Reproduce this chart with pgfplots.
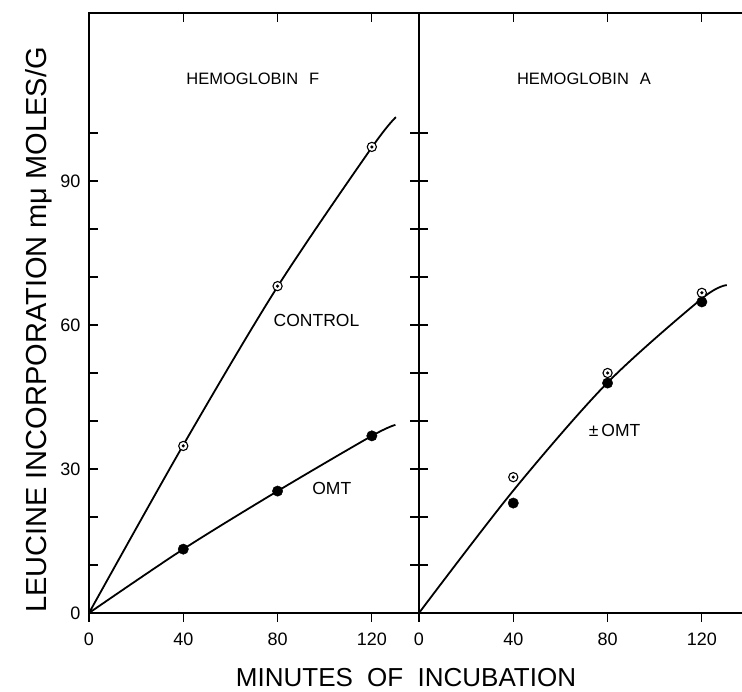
\documentclass[border=0pt]{standalone}
\usepackage{pgfplots}
\pgfplotsset{compat=1.18}
\usepackage{fontspec}
\setmainfont{Liberation Sans}

\pgfdeclareplotmark{odot}{%
  \pgfsetfillcolor{white}%
  \pgfpathcircle{\pgfpointorigin}{\pgfplotmarksize}%
  \pgfusepathqfillstroke
  \pgfsetfillcolor{black}%
  \pgfpathcircle{\pgfpointorigin}{0.38\pgfplotmarksize}%
  \pgfusepathqfill}

\pgfplotstableread{
x y
0 0
40 35
80 68
120 97
130.2 103.3
}\ctrlF
\pgfplotstableread{
x y
40 34.8
80 68.1
120 97.1
}\ctrlFpts
\pgfplotstableread{
x y
0 0
40 13.3
80 25.4
120 36.9
130 39.2
}\omtF
\pgfplotstableread{
x y
40 13.3
80 25.4
120 36.9
}\omtFpts
\pgfplotstableread{
x y
0 0
40 25.5
80 48
120 65.5
130.6 68.3
}\curveA
\pgfplotstableread{
x y
40 28.3
80 50
120 66.7
}\ctrlApts
\pgfplotstableread{
x y
40 22.9
80 47.9
120 64.8
}\omtApts

\begin{document}
\begin{tikzpicture}
\pgfplotsset{
  panel/.style={
    scale only axis, height=600pt, ymin=0, ymax=125, xmin=0,
    axis line style={line width=1.7pt},
    every tick/.style={black, line width=1.2pt},
    major tick length=9pt, minor tick length=9pt,
    xtick={0,40,80,120}, xticklabels={0,40,80,120},
    xtick pos=lower, xtick align=outside,
    ytick align=inside,
    tick label style={font=\fontsize{18}{20}\selectfont},
    xticklabel style={yshift=-7pt},
    yticklabel style={xshift=-5pt},
    clip=false,
  },
  curve/.style={black, line width=1.8pt, smooth, no markers},
  openpt/.style={only marks, mark=odot, mark size=4.6pt, mark options={draw=black, line width=1.1pt}},
  fullpt/.style={only marks, mark=*, mark size=5.2pt, mark options={fill=black, draw=black}},
}
\begin{axis}[panel, name=pF, width=330pt, xmax=140,
  ytick={0,10,...,100}, yticklabels={0,,,30,,,60,,,90,,},
  ytick pos=both, yticklabel pos=left]
  \addplot[curve] table[x=x,y=y] {\ctrlF};
  \addplot[curve] table[x=x,y=y] {\omtF};
  \addplot[openpt] table[x=x,y=y] {\ctrlFpts};
  \addplot[fullpt] table[x=x,y=y] {\omtFpts};
  \draw[line width=1.2pt] (axis cs:40,125) -- ++(0,-9pt);
  \draw[line width=1.2pt] (axis cs:80,125) -- ++(0,-9pt);
  \draw[line width=1.2pt] (axis cs:120,125) -- ++(0,-9pt);
  \node[font=\fontsize{16.5}{18}\selectfont] at (axis cs:69.5,111.25) {HEMOGLOBIN\hspace{11pt}F};
  \node[font=\fontsize{17.5}{19}\selectfont] at (axis cs:96.5,61) {CONTROL};
  \node[font=\fontsize{17.5}{19}\selectfont] at (axis cs:103,26) {OMT};
\end{axis}
\begin{axis}[panel, name=pA, width=324.1pt, xmax=137.5,
  at={(pF.south east)}, anchor=south west,
  axis x line*=box, axis y line*=left,
  xtick pos=lower, xtick align=outside, ytick align=inside,
  ytick={10,20,...,100}, yticklabels={},
  axis line style={line width=1.7pt}]
  \addplot[curve] table[x=x,y=y] {\curveA};
  \addplot[openpt] table[x=x,y=y] {\ctrlApts};
  \addplot[fullpt] table[x=x,y=y] {\omtApts};
  \draw[line width=1.2pt] (axis cs:40,125) -- ++(0,-9pt);
  \draw[line width=1.2pt] (axis cs:80,125) -- ++(0,-9pt);
  \draw[line width=1.2pt] (axis cs:120,125) -- ++(0,-9pt);
  \node[font=\fontsize{16.5}{18}\selectfont] at (axis cs:70,111.25) {HEMOGLOBIN\hspace{11pt}A};
  \node[font=\fontsize{17.5}{19}\selectfont] at (axis cs:83,38.1) {±\,OMT};
\end{axis}
\node[rotate=90, font=\fontsize{29}{31}\selectfont] at ([shift={(-50pt,283pt)}]pF.south west) {LEUCINE INCORPORATION mμ MOLES/G};
\node[anchor=base, font=\fontsize{26}{28}\selectfont] at ([shift={(317pt,-74pt)}]pF.south west) {MINUTES\hspace{0.55em}OF\hspace{0.55em}INCUBATION};
\pgfresetboundingbox
\useasboundingbox ([shift={(-89pt,-79pt)}]pF.south west) rectangle ([shift={(653pt,613pt)}]pF.south west);
\end{tikzpicture}
\end{document}
